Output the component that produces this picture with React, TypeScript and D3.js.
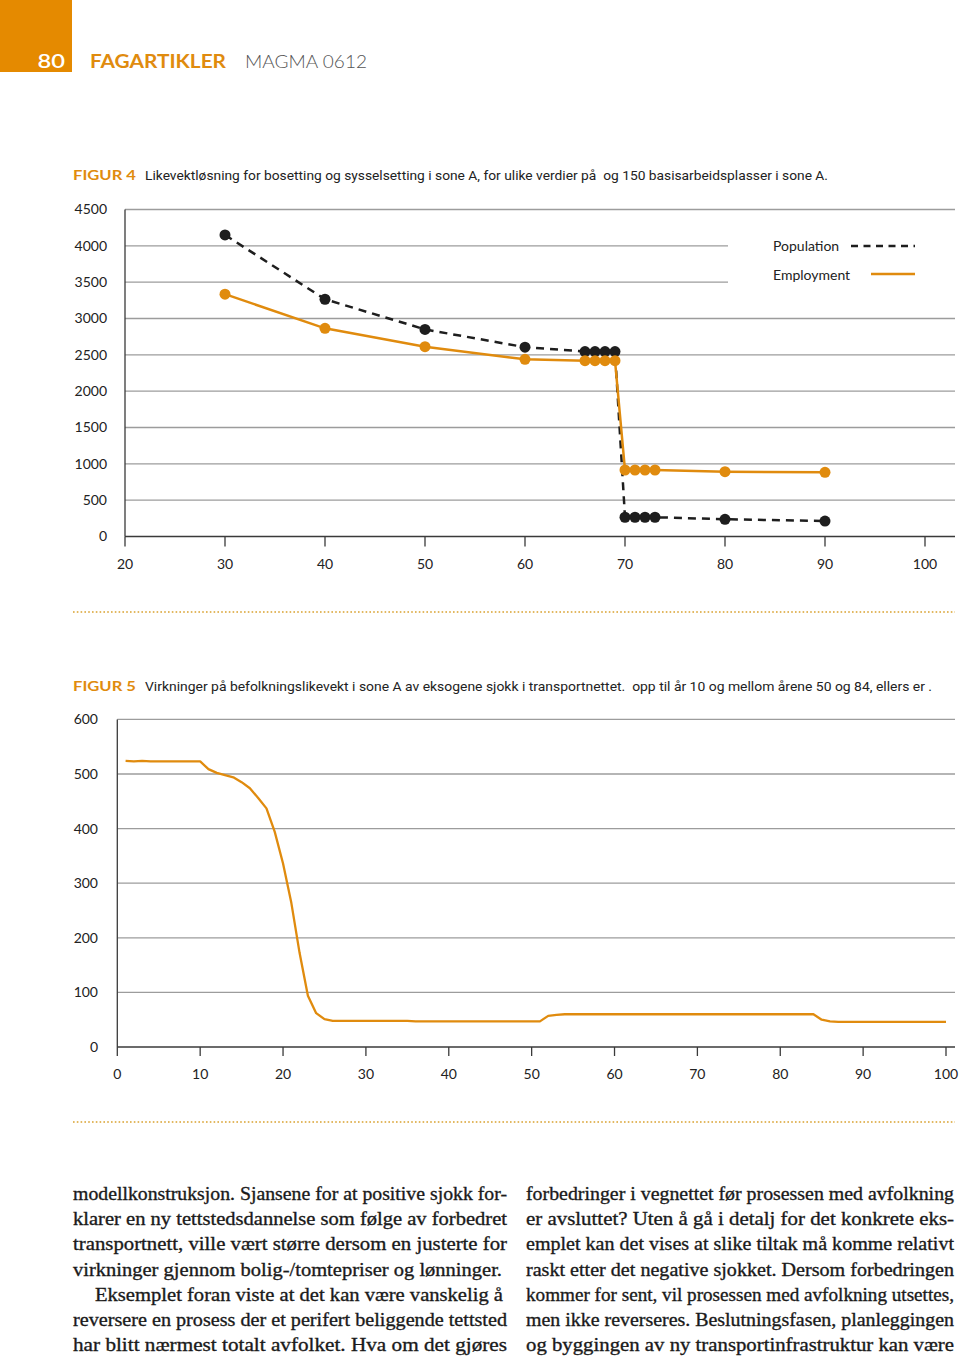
import React from 'react'
import * as d3 from 'd3'

// Figur 4 data
const fig4X = [30, 40, 50, 60, 66, 67, 68, 69, 70, 71, 72, 73, 80, 90]
const population = [4150, 3265, 2850, 2605, 2545, 2545, 2545, 2545, 265, 265, 265, 265, 237, 213]
const employment = [3335, 2865, 2612, 2438, 2420, 2420, 2420, 2420, 915, 915, 915, 915, 892, 883]
const fig4XTicks = [20, 30, 40, 50, 60, 70, 80, 90, 100]
const fig4YTicks = [0, 500, 1000, 1500, 2000, 2500, 3000, 3500, 4000, 4500]

// Figur 5 data (year 1..100)
const fig5Years = d3.range(1, 101)
const fig5Values = [
  524, 523, 524, 523, 523, 523, 523, 523, 523, 523,
  509, 502, 498, 494, 485, 474, 456, 437, 394, 336,
  264, 172, 94, 62, 51, 48, 48, 48, 48, 48,
  48, 48, 48, 48, 48, 47, 47, 47, 47, 47,
  47, 47, 47, 47, 47, 47, 47, 47, 47, 47,
  47, 57, 59, 60, 60, 60, 60, 60, 60, 60,
  60, 60, 60, 60, 60, 60, 60, 60, 60, 60,
  60, 60, 60, 60, 60, 60, 60, 60, 60, 60,
  60, 60, 60, 60, 50, 47, 46, 46, 46, 46,
  46, 46, 46, 46, 46, 46, 46, 46, 46, 46,
]
const fig5XTicks = [0, 10, 20, 30, 40, 50, 60, 70, 80, 90, 100]
const fig5YTicks = [0, 100, 200, 300, 400, 500, 600]

const leftColumn = [
  'modellkonstruksjon. Sjansene for at positive sjokk for-',
  'klarer en ny tettstedsdannelse som følge av forbedret',
  'transportnett, ville vært større dersom en justerte for',
  'virkninger gjennom bolig-/tomtepriser og lønninger.',
  'Eksemplet foran viste at det kan være vanskelig å',
  'reversere en prosess der et perifert beliggende tettsted',
  'har blitt nærmest totalt avfolket. Hva om det gjøres',
]
const rightColumn = [
  'forbedringer i vegnettet før prosessen med avfolkning',
  'er avsluttet? Uten å gå i detalj for det konkrete eks-',
  'emplet kan det vises at slike tiltak må komme relativt',
  'raskt etter det negative sjokket. Dersom forbedringen',
  'kommer for sent, vil prosessen med avfolkning utsettes,',
  'men ikke reverseres. Beslutningsfasen, planleggingen',
  'og byggingen av ny transportinfrastruktur kan være',
]

const ORANGE = '#e08b0e'
const GRID = '#9c9c9c'
const AXIS = '#3a3a3a'
const SANS = 'Lato, "Open Sans", sans-serif'
const CAPTION = 'Roboto, "Noto Sans", sans-serif'
const SERIF = '"Liberation Serif", "DejaVu Serif", serif'

export default function App() {
  // Figur 4 scales
  const x4 = d3.scaleLinear().domain([20, 100]).range([125, 925])
  const y4 = d3.scaleLinear().domain([0, 4500]).range([536.5, 209.5])
  const line4 = d3
    .line<number>()
    .x((d, i) => x4(fig4X[i]))
    .y((d) => y4(d))

  // Figur 5 scales
  const x5 = d3.scaleLinear().domain([0, 100]).range([117.3, 946])
  const y5 = d3.scaleLinear().domain([0, 600]).range([1047, 719.4])
  const line5 = d3
    .line<number>()
    .x((d, i) => x5(fig5Years[i]))
    .y((d) => y5(d))

  return (
    <svg
      width={960}
      height={1359}
      style={{ position: 'absolute', left: 0, top: 0, background: '#fff' }}
    >
      {/* header */}
      <rect x={0} y={0} width={72} height={72} fill="#e58a00" />
      <text x={37.5} y={68} fill="#fff" fontFamily={SANS} fontSize={20} fontWeight={600} textLength={27.5} lengthAdjust="spacingAndGlyphs">
        80
      </text>
      <text x={90} y={68} fill={ORANGE} fontFamily={SANS} fontSize={18.5} fontWeight={700} textLength={136} lengthAdjust="spacingAndGlyphs">
        FAGARTIKLER
      </text>
      <text x={245} y={68} fill="#555" fontFamily={SANS} fontSize={18.5} fontWeight={300} textLength={122} lengthAdjust="spacingAndGlyphs">
        MAGMA 0612
      </text>

      {/* Figur 4 caption */}
      <text x={73} y={180} fill={ORANGE} fontFamily={SANS} fontSize={14} fontWeight={700} textLength={63} lengthAdjust="spacingAndGlyphs">
        FIGUR 4
      </text>
      <text x={145} y={180} fill="#222" fontFamily={CAPTION} fontSize={13.5} textLength={683} lengthAdjust="spacingAndGlyphs" style={{ whiteSpace: 'pre' }}>
        Likevektløsning for bosetting og sysselsetting i sone A, for ulike verdier på  og 150 basisarbeidsplasser i sone A.
      </text>

      {/* Figur 4 grid */}
      {fig4YTicks.filter((t) => t > 0).map((t) => (
        <line
          key={'g4' + t}
          x1={125}
          x2={t === 3500 || t === 4000 ? 728 : 955}
          y1={y4(t)}
          y2={y4(t)}
          stroke={GRID}
          strokeWidth={1.3}
        />
      ))}
      {fig4YTicks.map((t) => (
        <text key={'yl4' + t} x={107} y={y4(t)} dy="0.35em" textAnchor="end" fill="#222" fontFamily={SANS} fontSize={14}>
          {t}
        </text>
      ))}
      <line x1={125} x2={125} y1={y4(4500)} y2={y4(0)} stroke={AXIS} strokeWidth={1.3} />
      <line x1={125} x2={955} y1={y4(0)} y2={y4(0)} stroke={AXIS} strokeWidth={1.3} />
      {fig4XTicks.map((t) => (
        <g key={'xt4' + t}>
          <line x1={x4(t)} x2={x4(t)} y1={y4(0)} y2={y4(0) + 10} stroke={AXIS} strokeWidth={1.3} />
          <text x={x4(t)} y={569} textAnchor="middle" fill="#222" fontFamily={SANS} fontSize={14}>
            {t}
          </text>
        </g>
      ))}

      {/* Figur 4 series */}
      <path d={line4(population) || ''} fill="none" stroke="#1e1e1e" strokeWidth={2.5} strokeDasharray="8,6" />
      {population.map((v, i) => (
        <circle key={'p' + i} cx={x4(fig4X[i])} cy={y4(v)} r={5.5} fill="#1e1e1e" />
      ))}
      <path d={line4(employment) || ''} fill="none" stroke={ORANGE} strokeWidth={2.5} />
      {employment.map((v, i) => (
        <circle key={'e' + i} cx={x4(fig4X[i])} cy={y4(v)} r={5.5} fill={ORANGE} />
      ))}

      {/* legend */}
      <text x={773} y={246} dy="0.35em" fill="#222" fontFamily={SANS} fontSize={14}>
        Population
      </text>
      <line x1={851} x2={915} y1={246} y2={246} stroke="#1e1e1e" strokeWidth={2.5} strokeDasharray="7,5.5" />
      <text x={773} y={275} dy="0.35em" fill="#222" fontFamily={SANS} fontSize={14}>
        Employment
      </text>
      <line x1={871} x2={915} y1={274} y2={274} stroke={ORANGE} strokeWidth={2.5} />

      {/* separator */}
      <line x1={73} x2={955} y1={612} y2={612} stroke="#d9a12e" strokeWidth={1.6} strokeDasharray="1.6,2.2" />

      {/* Figur 5 caption */}
      <text x={73} y={691} fill={ORANGE} fontFamily={SANS} fontSize={14} fontWeight={700} textLength={63} lengthAdjust="spacingAndGlyphs">
        FIGUR 5
      </text>
      <text x={145} y={691} fill="#222" fontFamily={CAPTION} fontSize={13.5} textLength={787} lengthAdjust="spacingAndGlyphs" style={{ whiteSpace: 'pre' }}>
        Virkninger på befolkningslikevekt i sone A av eksogene sjokk i transportnettet.  opp til år 10 og mellom årene 50 og 84, ellers er .
      </text>

      {/* Figur 5 grid */}
      {fig5YTicks.filter((t) => t > 0).map((t) => (
        <line key={'g5' + t} x1={117.3} x2={955} y1={y5(t)} y2={y5(t)} stroke={GRID} strokeWidth={1.3} />
      ))}
      {fig5YTicks.map((t) => (
        <text key={'yl5' + t} x={98} y={y5(t)} dy="0.35em" textAnchor="end" fill="#222" fontFamily={SANS} fontSize={14}>
          {t}
        </text>
      ))}
      <line x1={117.3} x2={117.3} y1={y5(600)} y2={y5(0)} stroke={AXIS} strokeWidth={1.3} />
      <line x1={117.3} x2={955} y1={y5(0)} y2={y5(0)} stroke={AXIS} strokeWidth={1.3} />
      {fig5XTicks.map((t) => (
        <g key={'xt5' + t}>
          <line x1={x5(t)} x2={x5(t)} y1={y5(0)} y2={y5(0) + 9} stroke={AXIS} strokeWidth={1.3} />
          <text x={x5(t)} y={1079} textAnchor="middle" fill="#222" fontFamily={SANS} fontSize={14}>
            {t}
          </text>
        </g>
      ))}
      <path d={line5(fig5Values) || ''} fill="none" stroke={ORANGE} strokeWidth={2.3} strokeLinejoin="round" />

      {/* separator */}
      <line x1={73} x2={955} y1={1122} y2={1122} stroke="#d9a12e" strokeWidth={1.6} strokeDasharray="1.6,2.2" />

      {/* body text */}
      {leftColumn.map((s, i) => {
        const indent = i === 4 ? 22 : 0
        const end = i === 3 ? 502 : i === 4 ? 503 : 507
        return (
          <text key={'l' + i} x={73 + indent} y={1200 + i * 25.2} fill="#1a1a1a" stroke="#1a1a1a" strokeWidth={0.35} fontFamily={SERIF} fontSize={19.5} textLength={end - 73 - indent} lengthAdjust="spacingAndGlyphs">
            {s}
          </text>
        )
      })}
      {rightColumn.map((s, i) => (
        <text key={'r' + i} x={526} y={1200 + i * 25.2} fill="#1a1a1a" stroke="#1a1a1a" strokeWidth={0.35} fontFamily={SERIF} fontSize={i === 4 ? 18.8 : 19.5} textLength={428} lengthAdjust="spacingAndGlyphs">
          {s}
        </text>
      ))}
    </svg>
  )
}
